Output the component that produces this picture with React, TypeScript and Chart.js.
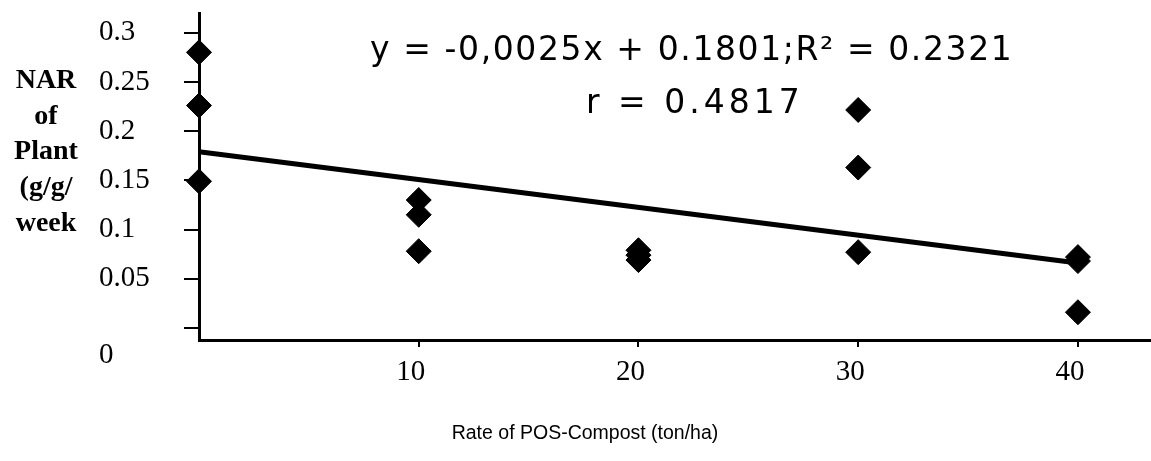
import React, { useEffect, useRef } from 'react';
import { Chart, registerables } from 'chart.js';

Chart.register(...registerables);

// ---- data ----
const rates = [0, 0, 0, 10, 10, 10, 20, 20, 20, 30, 30, 30, 40, 40, 40];
const narValues = [0.28, 0.226, 0.149, 0.13, 0.115, 0.078, 0.079, 0.074, 0.069, 0.2215, 0.163, 0.077, 0.072, 0.068, 0.016];
const trendRates = [0, 40];
const trendValues = [0.179, 0.066];
const xTickValues = [10, 20, 30, 40];
const yTickValues = [0, 0.05, 0.1, 0.15, 0.2, 0.25, 0.3];
const yTitleLines = ['NAR', 'of', 'Plant', '(g/g/', 'week'];
const xTitle = 'Rate of POS-Compost (ton/ha)';
const equationText = 'y = -0,0025x + 0.1801;R\u00B2 = 0.2321';
const rText = 'r = 0.4817';

const textPlugin = {
  id: 'freeText',
  afterDraw(chart: any) {
    const ctx = chart.ctx;
    ctx.save();
    ctx.fillStyle = '#000';
    ctx.textBaseline = 'alphabetic';
    ctx.textAlign = 'center';
    ctx.font = 'bold 28px "Liberation Serif"';
    yTitleLines.forEach((t, i) => ctx.fillText(t, 46, 88 + i * 35.7));

    ctx.textAlign = 'left';
    ctx.font = '33px "DejaVu Sans"';
    ctx.letterSpacing = '1.6px';
    ctx.fillText(equationText, 370, 60);
    ctx.letterSpacing = '4px';
    ctx.fillText(rText, 586, 113);
    ctx.letterSpacing = '0px';

    ctx.textAlign = 'center';
    ctx.font = '19.5px "Liberation Sans"';
    ctx.fillText(xTitle, 585, 439);
    ctx.restore();
  },
};

export default function App() {
  const canvasRef = useRef<HTMLCanvasElement | null>(null);

  useEffect(() => {
    if (!canvasRef.current) return;
    const chart = new Chart(canvasRef.current, {
      type: 'scatter',
      data: {
        datasets: [
          {
            label: 'NAR',
            data: rates.map((x, i) => ({ x, y: narValues[i] })),
            pointStyle: 'rectRot',
            pointRadius: 12.5,
            backgroundColor: '#000',
            borderColor: '#000',
            borderWidth: 1,
            clip: false,
            order: 0,
          },
          {
            label: 'Trend',
            data: trendRates.map((x, i) => ({ x, y: trendValues[i] })),
            showLine: true,
            borderColor: '#000',
            borderWidth: 5,
            pointRadius: 0,
            clip: false,
            order: 1,
          },
        ],
      },
      options: {
        animation: false,
        responsive: true,
        maintainAspectRatio: false,
        layout: { autoPadding: false, padding: { left: 99, top: 13, right: 1, bottom: 0 } },
        plugins: { legend: { display: false }, tooltip: { enabled: false }, title: { display: false } },
        scales: {
          x: {
            type: 'linear',
            min: 0,
            max: 43.28,
            afterBuildTicks: (s: any) => {
              s.ticks = xTickValues.map((v) => ({ value: v }));
            },
            afterFit: (s: any) => {
              s.height = 121;
              s.paddingLeft = 0;
              s.paddingRight = 0;
            },
            grid: { drawOnChartArea: false, tickLength: 7, color: '#000', lineWidth: 2 },
            border: { display: true, color: '#000', width: 3 },
            ticks: {
              color: '#000',
              font: { family: 'Liberation Serif', size: 29 },
              padding: 8,
              labelOffset: -8,
              maxRotation: 0,
              autoSkip: false,
            },
          },
          y: {
            type: 'linear',
            min: -0.0122,
            max: 0.32,
            afterBuildTicks: (s: any) => {
              s.ticks = yTickValues.map((v) => ({ value: v }));
            },
            afterFit: (s: any) => {
              s.width = 100;
              s.paddingTop = 0;
              s.paddingBottom = 0;
            },
            grid: { drawOnChartArea: false, tickLength: 15, color: '#000', lineWidth: 2 },
            border: { display: true, color: '#000', width: 3 },
            ticks: {
              color: '#000',
              crossAlign: 'far',
              autoSkip: false,
              font: { family: 'Liberation Serif', size: 29, lineHeight: 1.86 },
              callback: (v: any) => (v === 0 ? ['', '0'] : String(v)),
            },
          },
        },
      },
      plugins: [textPlugin],
    } as any);
    return () => chart.destroy();
  }, []);

  return (
    <div style={{ position: 'fixed', left: 0, top: 0, width: 1151, height: 461, background: '#fff' }}>
      <canvas ref={canvasRef} />
    </div>
  );
}
